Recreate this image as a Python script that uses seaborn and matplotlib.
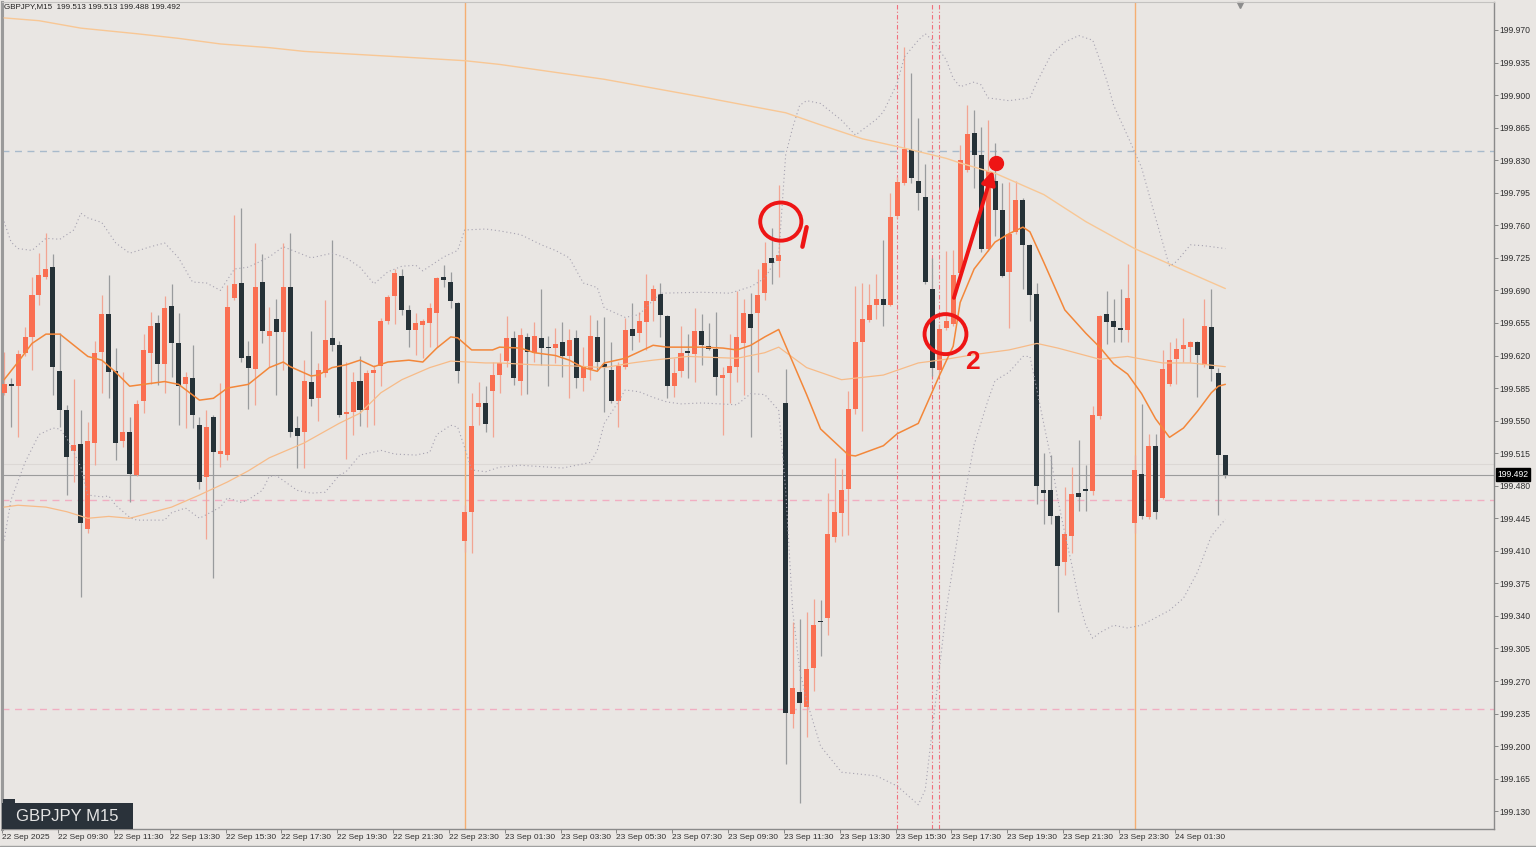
import numpy as np
import pandas as pd
import matplotlib
matplotlib.use("Agg")
import matplotlib.pyplot as plt
from matplotlib.patches import Ellipse, Rectangle
from matplotlib.lines import Line2D
import seaborn as sns

symbol = "GBPJPY"
timeframe = "M15"

# 15-minute candles, 22 Sep 07:30 -> 24 Sep 03:15
opens = [199.580, 199.589, 199.587, 199.623, 199.640, 199.685, 199.704, 199.715, 199.603, 199.561,
         199.517, 199.525, 199.434, 199.526, 199.624, 199.665, 199.603, 199.528, 199.538, 199.491,
         199.571, 199.623, 199.655, 199.611, 199.673, 199.633, 199.589, 199.596, 199.545, 199.489,
         199.554, 199.514, 199.513, 199.682, 199.698, 199.619, 199.605, 199.699, 199.641, 199.659,
         199.645, 199.694, 199.542, 199.538, 199.592, 199.574, 199.601, 199.639, 199.631, 199.557,
         199.559, 199.593, 199.561, 199.601, 199.609, 199.657, 199.684, 199.706, 199.669, 199.647,
         199.653, 199.655, 199.666, 199.704, 199.699, 199.676, 199.421, 199.452, 199.565, 199.569,
         199.582, 199.599, 199.614, 199.639, 199.593, 199.640, 199.623, 199.639, 199.629, 199.628,
         199.634, 199.619, 199.639, 199.596, 199.605, 199.640, 199.611, 199.604, 199.571, 199.608,
         199.648, 199.644, 199.656, 199.679, 199.686, 199.662, 199.587, 199.603, 199.625, 199.622,
         199.646, 199.630, 199.627, 199.596, 199.601, 199.608, 199.633, 199.665, 199.666, 199.687,
         199.725, 199.722, 199.569, 199.235, 199.258, 199.242, 199.284, 199.335, 199.338, 199.425,
         199.451, 199.476, 199.562, 199.634, 199.658, 199.674, 199.681, 199.674, 199.770, 199.806,
         199.841, 199.808, 199.790, 199.692, 199.604, 199.650, 199.654, 199.709, 199.820, 199.859,
         199.836, 199.735, 199.808, 199.776, 199.710, 199.753, 199.787, 199.739, 199.686, 199.475,
         199.475, 199.447, 199.398, 199.426, 199.472, 199.476, 199.474, 199.555, 199.665, 199.657,
         199.650, 199.647, 199.440, 199.493, 199.446, 199.523, 199.467, 199.589, 199.616, 199.627,
         199.629, 199.634, 199.610, 199.651, 199.601, 199.513]
highs = [199.624, 199.596, 199.626, 199.651, 199.704, 199.730, 199.752, 199.729, 199.644, 199.567,
         199.595, 199.561, 199.549, 199.636, 199.685, 199.707, 199.628, 199.602, 199.554, 199.572,
         199.643, 199.667, 199.664, 199.684, 199.697, 199.666, 199.602, 199.631, 199.554, 199.561,
         199.556, 199.590, 199.696, 199.771, 199.779, 199.636, 199.741, 199.729, 199.672, 199.681,
         199.741, 199.752, 199.555, 199.615, 199.646, 199.612, 199.680, 199.744, 199.636, 199.613,
         199.602, 199.619, 199.604, 199.610, 199.660, 199.685, 199.713, 199.713, 199.674, 199.666,
         199.659, 199.676, 199.704, 199.717, 199.710, 199.677, 199.459, 199.580, 199.592, 199.587,
         199.613, 199.623, 199.662, 199.646, 199.650, 199.644, 199.656, 199.692, 199.641, 199.650,
         199.656, 199.648, 199.647, 199.629, 199.664, 199.658, 199.661, 199.634, 199.613, 199.660,
         199.676, 199.667, 199.708, 199.696, 199.698, 199.664, 199.617, 199.652, 199.643, 199.671,
         199.665, 199.655, 199.667, 199.608, 199.643, 199.689, 199.681, 199.687, 199.713, 199.742,
         199.757, 199.803, 199.606, 199.334, 199.337, 199.344, 199.358, 199.357, 199.472, 199.510,
         199.498, 199.582, 199.695, 199.698, 199.697, 199.708, 199.744, 199.795, 199.812, 199.952,
         199.924, 199.875, 199.826, 199.725, 199.654, 199.732, 199.733, 199.846, 199.889, 199.884,
         199.866, 199.873, 199.849, 199.805, 199.807, 199.808, 199.789, 199.740, 199.698, 199.515,
         199.513, 199.448, 199.479, 199.500, 199.529, 199.502, 199.566, 199.664, 199.689, 199.681,
         199.691, 199.718, 199.513, 199.568, 199.536, 199.536, 199.626, 199.635, 199.639, 199.660,
         199.636, 199.636, 199.681, 199.691, 199.607, 199.513]
lows = [199.578, 199.543, 199.532, 199.620, 199.604, 199.674, 199.702, 199.578, 199.543, 199.470,
        199.484, 199.360, 199.429, 199.502, 199.580, 199.574, 199.508, 199.522, 199.463, 199.490,
        199.558, 199.589, 199.588, 199.580, 199.597, 199.545, 199.542, 199.542, 199.477, 199.423,
        199.381, 199.500, 199.508, 199.680, 199.613, 199.563, 199.567, 199.633, 199.608, 199.578,
        199.604, 199.532, 199.499, 199.499, 199.566, 199.550, 199.597, 199.625, 199.554, 199.509,
        199.534, 199.544, 199.543, 199.545, 199.587, 199.654, 199.654, 199.664, 199.629, 199.621,
        199.617, 199.629, 199.629, 199.694, 199.671, 199.590, 199.409, 199.408, 199.545, 199.538,
        199.532, 199.580, 199.608, 199.588, 199.578, 199.579, 199.613, 199.610, 199.587, 199.612,
        199.597, 199.574, 199.585, 199.582, 199.594, 199.604, 199.559, 199.569, 199.543, 199.606,
        199.626, 199.635, 199.626, 199.657, 199.640, 199.574, 199.575, 199.597, 199.596, 199.592,
        199.610, 199.626, 199.578, 199.534, 199.569, 199.592, 199.578, 199.532, 199.602, 199.680,
        199.697, 199.704, 199.181, 199.219, 199.139, 199.210, 199.259, 199.297, 199.320, 199.420,
        199.426, 199.427, 199.557, 199.539, 199.656, 199.659, 199.652, 199.673, 199.768, 199.803,
        199.806, 199.776, 199.697, 199.598, 199.599, 199.647, 199.652, 199.707, 199.817, 199.800,
        199.731, 199.732, 199.749, 199.704, 199.650, 199.751, 199.691, 199.657, 199.460, 199.439,
        199.439, 199.344, 199.384, 199.408, 199.453, 199.453, 199.470, 199.552, 199.632, 199.635,
        199.635, 199.635, 199.429, 199.444, 199.444, 199.444, 199.466, 199.587, 199.589, 199.613,
        199.613, 199.575, 199.608, 199.593, 199.448, 199.488]
closes = [199.589, 199.587, 199.622, 199.640, 199.685, 199.707, 199.713, 199.608, 199.561, 199.511,
          199.524, 199.440, 199.528, 199.623, 199.665, 199.602, 199.526, 199.538, 199.493, 199.568,
          199.626, 199.652, 199.611, 199.671, 199.633, 199.587, 199.597, 199.556, 199.484, 199.543,
          199.516, 199.517, 199.672, 199.697, 199.617, 199.607, 199.694, 199.646, 199.646, 199.645,
          199.694, 199.538, 199.533, 199.593, 199.573, 199.604, 199.637, 199.631, 199.556, 199.559,
          199.592, 199.561, 199.601, 199.604, 199.657, 199.683, 199.709, 199.669, 199.647, 199.655,
          199.657, 199.671, 199.703, 199.701, 199.679, 199.603, 199.452, 199.544, 199.569, 199.546,
          199.599, 199.612, 199.639, 199.596, 199.642, 199.624, 199.641, 199.628, 199.628, 199.632,
          199.620, 199.637, 199.596, 199.608, 199.641, 199.613, 199.608, 199.571, 199.609, 199.647,
          199.641, 199.657, 199.679, 199.692, 199.664, 199.587, 199.601, 199.623, 199.623, 199.646,
          199.631, 199.627, 199.597, 199.599, 199.609, 199.640, 199.666, 199.650, 199.685, 199.719,
          199.720, 199.728, 199.236, 199.262, 199.246, 199.283, 199.330, 199.333, 199.428, 199.452,
          199.475, 199.562, 199.634, 199.659, 199.674, 199.681, 199.674, 199.769, 199.807, 199.842,
          199.811, 199.795, 199.699, 199.607, 199.648, 199.657, 199.707, 199.830, 199.858, 199.836,
          199.735, 199.818, 199.776, 199.706, 199.751, 199.787, 199.739, 199.685, 199.480, 199.472,
          199.447, 199.394, 199.428, 199.471, 199.468, 199.474, 199.556, 199.662, 199.656, 199.651,
          199.647, 199.682, 199.497, 199.447, 199.523, 199.452, 199.606, 199.615, 199.627, 199.631,
          199.634, 199.621, 199.652, 199.605, 199.513, 199.492]

# moving averages (bar index, price)
fast_bar = [0, 2, 4, 6, 8, 12, 14, 16, 18, 20, 23, 25, 28, 30, 32, 35, 38, 40, 41, 44,
            45, 47, 49, 51, 53, 55, 58, 60, 62, 64, 65, 67, 70, 71, 74, 76, 79, 81, 83, 85,
            86, 89, 91, 93, 95, 100, 103, 105, 107, 109, 111, 115, 117, 121, 122, 126, 128, 131, 134, 136,
            137, 139, 142, 144, 146, 147, 149, 152, 155, 157, 159, 161, 163, 165, 167, 169, 171, 173, 174, 175]
fast_ma = [199.594, 199.613, 199.633, 199.643, 199.643, 199.619, 199.615, 199.602, 199.587, 199.589,
           199.592, 199.589, 199.572, 199.574, 199.585, 199.589, 199.607, 199.613, 199.608, 199.598,
           199.599, 199.607, 199.610, 199.615, 199.608, 199.613, 199.615, 199.613, 199.628, 199.640,
           199.639, 199.626, 199.626, 199.629, 199.628, 199.623, 199.620, 199.615, 199.607, 199.603,
           199.612, 199.617, 199.624, 199.631, 199.629, 199.629, 199.628, 199.626, 199.631, 199.640,
           199.648, 199.578, 199.541, 199.513, 199.512, 199.523, 199.536, 199.547, 199.598, 199.630,
           199.677, 199.713, 199.742, 199.751, 199.758, 199.753, 199.720, 199.669, 199.644, 199.629,
           199.611, 199.600, 199.579, 199.552, 199.532, 199.542, 199.560, 199.580, 199.587, 199.589]

mid_bar = [0, 2, 6, 9, 12, 15, 18, 21, 24, 28, 32, 35, 38, 43, 48, 51, 54, 57, 61, 64,
           69, 71, 76, 81, 86, 90, 93, 98, 105, 109, 111, 115, 120, 126, 131, 135, 139, 144, 148, 151,
           157, 161, 166, 170, 175]
mid_ma = [199.457, 199.459, 199.457, 199.452, 199.445, 199.447, 199.445, 199.451, 199.457, 199.470,
          199.484, 199.496, 199.510, 199.526, 199.547, 199.558, 199.580, 199.594, 199.607, 199.614,
          199.612, 199.612, 199.610, 199.609, 199.607, 199.612, 199.615, 199.619, 199.617, 199.623,
          199.629, 199.607, 199.594, 199.599, 199.612, 199.616, 199.621, 199.626, 199.633, 199.628,
          199.616, 199.619, 199.612, 199.612, 199.608]

slow_bar = [0, 5, 11, 19, 25, 31, 38, 43, 57, 66, 71, 86, 100, 112, 117, 123, 129, 135, 137, 142,
            149, 155, 162, 168, 175]
slow_ma = [199.983, 199.980, 199.972, 199.966, 199.961, 199.955, 199.951, 199.947, 199.941, 199.937,
           199.933, 199.917, 199.898, 199.881, 199.868, 199.853, 199.843, 199.832, 199.827, 199.816,
           199.793, 199.764, 199.735, 199.715, 199.692]

# bollinger bands
upper_bar = [0, 1, 2, 4, 6, 8, 10, 11, 12, 14, 16, 18, 21, 23, 25, 27, 29, 31, 33, 35,
             38, 40, 44, 47, 49, 51, 53, 55, 57, 59, 60, 63, 65, 66, 69, 71, 74, 77, 79, 81,
             83, 85, 86, 89, 91, 94, 100, 104, 107, 109, 111, 112, 113, 114, 115, 117, 120, 122, 125, 126,
             128, 129, 131, 132, 133, 135, 136, 137, 139, 140, 141, 144, 147, 148, 150, 152, 154, 156, 157, 158,
             159, 161, 163, 165, 167, 168, 170, 172, 175]
upper_band = [199.764, 199.742, 199.735, 199.733, 199.746, 199.745, 199.755, 199.773, 199.768, 199.763,
              199.741, 199.730, 199.737, 199.741, 199.725, 199.699, 199.698, 199.690, 199.713, 199.715,
              199.726, 199.737, 199.725, 199.730, 199.725, 199.715, 199.697, 199.710, 199.716, 199.717,
              199.711, 199.726, 199.733, 199.755, 199.756, 199.754, 199.750, 199.739, 199.733, 199.725,
              199.698, 199.693, 199.671, 199.661, 199.664, 199.687, 199.688, 199.687, 199.694, 199.703,
              199.728, 199.836, 199.865, 199.889, 199.894, 199.891, 199.873, 199.857, 199.874, 199.882,
              199.913, 199.941, 199.959, 199.966, 199.959, 199.938, 199.918, 199.909, 199.914, 199.911,
              199.897, 199.894, 199.897, 199.914, 199.943, 199.957, 199.964, 199.959, 199.938, 199.916,
              199.889, 199.856, 199.822, 199.768, 199.716, 199.721, 199.739, 199.738, 199.735]
lower_bar = [0, 1, 3, 5, 7, 8, 9, 11, 12, 14, 15, 16, 18, 19, 23, 24, 26, 28, 31, 32,
             34, 35, 37, 38, 39, 42, 44, 46, 48, 49, 51, 54, 56, 59, 61, 62, 64, 65, 66, 67,
             69, 71, 74, 80, 84, 85, 86, 88, 89, 91, 93, 95, 97, 100, 105, 107, 109, 111, 112, 113,
             114, 115, 117, 120, 125, 128, 131, 132, 133, 135, 137, 139, 141, 142, 144, 146, 147, 148, 149, 150,
             151, 152, 153, 154, 155, 156, 157, 159, 161, 163, 165, 167, 169, 171, 173, 175]
lower_band = [199.421, 199.465, 199.505, 199.535, 199.542, 199.541, 199.531, 199.500, 199.470, 199.468,
              199.469, 199.459, 199.446, 199.443, 199.443, 199.451, 199.456, 199.445, 199.457, 199.467,
              199.462, 199.465, 199.475, 199.490, 199.491, 199.475, 199.472, 199.473, 199.491, 199.495,
              199.513, 199.518, 199.514, 199.513, 199.516, 199.535, 199.545, 199.543, 199.521, 199.497,
              199.495, 199.500, 199.502, 199.499, 199.505, 199.518, 199.547, 199.570, 199.583, 199.581,
              199.575, 199.570, 199.568, 199.569, 199.567, 199.579, 199.578, 199.561, 199.475, 199.346,
              199.282, 199.249, 199.200, 199.172, 199.168, 199.157, 199.137, 199.153, 199.217, 199.346,
              199.443, 199.524, 199.572, 199.593, 199.602, 199.619, 199.619, 199.583, 199.546, 199.510,
              199.465, 199.429, 199.395, 199.357, 199.330, 199.316, 199.322, 199.330, 199.327, 199.330,
              199.338, 199.346, 199.359, 199.387, 199.426, 199.444]

# levels and markers drawn on the chart
resistance_level = 199.840
pink_levels = [199.465, 199.240]
ask_price = 199.503
day_breaks = [66, 162]
red_vlines = [128, 133, 134]

tick_bars = list(range(0, 169, 8))
tick_labels = ["22 Sep 2025", "22 Sep 09:30", "22 Sep 11:30", "22 Sep 13:30", "22 Sep 15:30",
               "22 Sep 17:30", "22 Sep 19:30", "22 Sep 21:30", "22 Sep 23:30", "23 Sep 01:30",
               "23 Sep 03:30", "23 Sep 05:30", "23 Sep 07:30", "23 Sep 09:30", "23 Sep 11:30",
               "23 Sep 13:30", "23 Sep 15:30", "23 Sep 17:30", "23 Sep 19:30", "23 Sep 21:30",
               "23 Sep 23:30", "24 Sep 01:30"]
price_ticks = [199.130 + 0.035 * k for k in range(25)]

# hand-drawn annotations (bar, price)
circle_one = (111.3, 199.764)
circle_two = (134.9, 199.643)
label_two = (138.8, 199.613)
target_dot = (142.1, 199.827)
arrow_from = (136.1, 199.682)
arrow_to = (141.7, 199.819)

bg = "#E9E6E3"
bull_col = "#FA6F52"
bear_col = "#263238"
bull_wick = "#F2A593"
bear_wick = "#999B9D"
red = "#EE1515"

sns.set_style("white", {"axes.facecolor": bg, "figure.facecolor": bg})
plt.rcParams["font.family"] = ["Liberation Sans", "DejaVu Sans"]

df = pd.DataFrame({"open": opens, "high": highs, "low": lows, "close": closes})
df["bar"] = np.arange(len(df))
df["up"] = df["close"] >= df["open"]

fig = plt.figure(figsize=(15.36, 8.47), dpi=100)
ax = fig.add_axes([2 / 1536, 18 / 847, 1492 / 1536, 827 / 847])
ax.set_facecolor(bg)

# reference lines
ax.axhline(resistance_level, color="#A8BACB", lw=1.0, ls=(0, (5, 4)), zorder=1)
for lv in pink_levels:
    ax.axhline(lv, color="#F1AEC2", lw=1.0, ls=(0, (5, 4)), zorder=1)
ax.axhline(ask_price, color="#DCD8D5", lw=0.8, zorder=1)
ax.axhline(closes[-1], color="#9C9C9C", lw=0.8, zorder=1)
for b in day_breaks:
    ax.axvline(b, color="#F5AE72", lw=1.0, zorder=1)
for b in red_vlines:
    ax.axvline(b, color="#F0707E", lw=0.8, ls=(0, (4, 2, 1, 2)), zorder=1)

# candles
up = df[df["up"]]
dn = df[~df["up"]]
ax.vlines(up["bar"], up["low"], up["high"], color=bull_wick, lw=0.9, zorder=2)
ax.vlines(dn["bar"], dn["low"], dn["high"], color=bear_wick, lw=0.9, zorder=2)
body_h = (df["close"] - df["open"]).abs().clip(lower=0.0012)
body_b = df[["open", "close"]].min(axis=1)
ax.bar(df["bar"], body_h, bottom=body_b, width=0.72,
       color=np.where(df["up"], bull_col, bear_col), linewidth=0, zorder=3)

# indicators
sns.lineplot(x=slow_bar, y=slow_ma, ax=ax, color="#F8C795", lw=1.0, zorder=4)
sns.lineplot(x=mid_bar, y=mid_ma, ax=ax, color="#F7BB88", lw=0.9, zorder=4)
sns.lineplot(x=fast_bar, y=fast_ma, ax=ax, color="#F3873A", lw=1.1, zorder=4)
sns.lineplot(x=upper_bar, y=upper_band, ax=ax, color="#A6A2B0", lw=0.8, ls=(0, (1, 2.5)), zorder=4)
sns.lineplot(x=lower_bar, y=lower_band, ax=ax, color="#A6A2B0", lw=0.8, ls=(0, (1, 2.5)), zorder=4)

# red annotations
ax.add_patch(Ellipse(circle_one, 5.9, 0.041, fill=False, ec=red, lw=2.8, zorder=6))
ax.plot([circle_one[0] + 3.7, circle_one[0] + 3.1], [circle_one[1] - 0.006, circle_one[1] - 0.027],
        color=red, lw=3.2, solid_capstyle="round", zorder=6)
ax.add_patch(Ellipse(circle_two, 6.0, 0.043, fill=False, ec=red, lw=2.8, zorder=6))
ax.text(label_two[0], label_two[1], "2", color=red, fontsize=19, fontweight="bold",
        ha="center", va="center", zorder=6)
ax.annotate("", xy=arrow_to, xytext=arrow_from,
            arrowprops=dict(arrowstyle="-|>", color=red, lw=2.8, mutation_scale=20,
                            shrinkA=0, shrinkB=0), zorder=6)
ax.plot([target_dot[0]], [target_dot[1]], "o", color=red, ms=10, zorder=7)

# axes
ax.set_xlim(-0.3, 213.5)
ax.set_ylim(199.1109, 200.0001)
ax.set_xlabel("")
ax.set_ylabel("")
ax.yaxis.tick_right()
ax.set_yticks(price_ticks)
ax.set_yticklabels([f"{v:.3f}" for v in price_ticks])
ax.set_xticks([b - 0.25 for b in tick_bars])
ax.set_xticklabels(tick_labels)
for lab in ax.get_xticklabels():
    lab.set_ha("left")
ax.tick_params(axis="y", right=True, left=False, length=3, width=0.6, color="#777777",
               pad=1, labelsize=6.2, labelcolor="#303030")
ax.tick_params(axis="x", bottom=True, length=3, width=0.6, color="#777777",
               pad=0.5, labelsize=6.0, labelcolor="#303030")
for side in ["right", "bottom"]:
    ax.spines[side].set_color("#8A8A8A")
    ax.spines[side].set_linewidth(1.0)
ax.spines["left"].set_color("#9A9A9A")
ax.spines["left"].set_linewidth(2.2)
ax.spines["top"].set_color("#C4C2C0")
ax.spines["top"].set_linewidth(0.8)

# current price tag
ax.annotate(f"{closes[-1]:.3f}", xy=(1.0, closes[-1]), xycoords=("axes fraction", "data"),
            xytext=(2.5, 0), textcoords="offset points", ha="left", va="center",
            color="white", fontsize=6.2,
            bbox=dict(boxstyle="square,pad=0.2", fc="black", ec="black"), annotation_clip=False)

# header line with last OHLC
fig.text(4 / 1536, 1 - 3 / 847,
         f"{symbol},{timeframe}  {opens[-1]:.3f} {highs[-1]:.3f} {lows[-1]:.3f} {closes[-1]:.3f}",
         ha="left", va="top", fontsize=5.8, color="#202020")

# small menu triangle
ax.plot([0.8298], [0.9965], marker="v", ms=4, color="#8C8C8C", transform=ax.transAxes, clip_on=False)

# symbol badge
fig.patches.append(Rectangle((2 / 1536, 18 / 847), 131 / 1536, 26 / 847, transform=fig.transFigure,
                             fc="#2A323A", ec="none", zorder=5))
fig.patches.append(Rectangle((3 / 1536, 44 / 847), 12 / 1536, 4 / 847, transform=fig.transFigure,
                             fc="#2A323A", ec="none", zorder=5))
fig.text(67 / 1536, 1 - 816 / 847, f"{symbol} {timeframe}", ha="center", va="center",
         fontsize=12, color="#E4E4E4", zorder=6)

fig.lines.append(Line2D([0, 1], [1.5 / 847, 1.5 / 847], transform=fig.transFigure,
                        color="#A0A0A0", lw=1.0))

fig.savefig("out.png", dpi=100, facecolor=bg)
